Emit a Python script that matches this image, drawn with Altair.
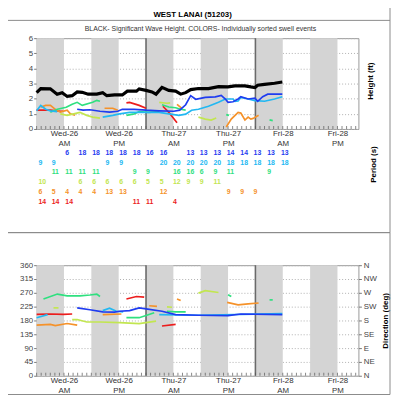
import altair as alt
import pandas as pd

# ---------------- axis / layout values ----------------
X_MAX = 70.6
BAND_START = [0, 12, 24, 36, 48, 60]
BAND_END = [6, 18, 30, 42, 54, 66]
DAY_LINES = [24, 48]
LABEL_HOURS = [6, 18, 30, 42, 54, 66]
LABEL_DAY = ['Wed-26', 'Wed-26', 'Thu-27', 'Thu-27', 'Fri-28', 'Fri-28']
LABEL_HALF = ['AM', 'PM', 'AM', 'PM', 'AM', 'PM']
TICK_HOURS = list(range(0, 71))
HEIGHT_TICKS = [0, 1, 2, 3, 4, 5, 6]
DIR_TICKS = [0, 45, 90, 135, 180, 225, 270, 315, 360]
DIR_NAMES = ['N', 'NE', 'E', 'SE', 'S', 'SW', 'W', 'NW', 'N']

SERIES = ['black', 'blue', 'cyan', 'green', 'ygreen', 'orange', 'red']
COLORS = ['#000000', '#1f3cf0', '#22b8f2', '#2fe07f', '#c2e650', '#f5922a', '#ec1d1d']
WIDTHS = [3.2, 1.7, 1.7, 1.7, 1.7, 1.7, 1.7]

# ---------------- wave height (ft) ----------------
BLACK_T = [[0, 0.9, 3, 4.5, 5.6, 6.7, 7.8, 8.9, 10, 11.3, 13.2, 14.5, 15.4, 17.1, 18.8, 19.9, 21.9, 22.5,
            24, 25.3, 26.2, 27.5, 29, 30.5, 31.6, 32.7, 33.8, 35.5, 37.7, 39.9, 42, 43.5, 45.7, 47, 47.9,
            48.5, 50, 52.2, 53.9]]
BLACK_H = [[2.4, 2.67, 2.65, 2.3, 2.4, 2.15, 2.2, 2.45, 2.42, 2.3, 2.3, 2.4, 2.2, 2.25, 2.25, 2.5, 2.5, 2.65,
            2.55, 2.45, 2.3, 2.75, 2.55, 2.5, 2.3, 2.4, 2.6, 2.67, 2.67, 2.8, 2.78, 2.85, 2.85, 2.78, 2.74,
            2.89, 2.95, 3.02, 3.1]]
BLUE_T = [[8.9, 10.2, 11.7, 13.9, 16, 17.8, 18.8, 21.4, 24, 26.9, 30.1, 31.4, 32.7, 33.8, 34.9, 36.2, 37,
           39.2, 40.5, 41.4, 42, 43.1, 44.2, 44.8, 46.4, 47.9, 48.5, 49.6, 50.7, 53.9]]
BLUE_H = [[1.3, 1.24, 1.27, 1.17, 1.11, 1.17, 1.3, 1.3, 1.24, 1.2, 1.17, 1.24, 1.6, 2.2, 1.96, 2.04, 2.09,
           2.12, 2.22, 1.98, 1.76, 1.8, 1.98, 2.13, 1.98, 2.04, 1.83, 2.13, 2.3, 2.3]]
CYAN_T = [[0, 0.9, 2, 3, 4.5],
          [14.5, 16.7, 18.2, 20.4, 24, 26.9, 29, 31.2, 32.7, 34, 35.5, 37.7, 39.9, 41.4, 43.1, 43.5, 44.2,
           44.8, 46.4, 47.9, 50, 52.2, 53.9]]
CYAN_H = [[1.2, 1.55, 1.3, 1.2, 1.15],
          [0.78, 0.9, 1.0, 1.1, 1.1, 1.1, 1.0, 0.9, 0.98, 1.24, 1.3, 1.5, 1.76, 1.98, 1.98, 1.83, 1.85,
           2.08, 1.98, 1.87, 1.83, 1.98, 2.13]]
GREEN_T = [[3, 4.55, 6.5, 7.8, 8.9, 10, 12.3, 13.2, 13.9], [19.7, 21.4, 22.5, 24.5, 26.9],
           [27.5, 29, 30.5, 31.6, 32.7], [41.6, 42.2], [51.1, 51.8]]
GREEN_H = [[1.11, 1.3, 1.43, 1.63, 1.76, 1.56, 1.76, 1.89, 1.83], [0.9, 1.0, 1.15, 1.1, 1.15],
           [1.6, 1.45, 1.4, 1.3, 1.25], [0.95, 0.9], [0.6, 0.55]]
YGREEN_T = [[5.2, 6.7, 9.5, 11, 12.3, 13.9], [26.9, 28.6, 29.3], [35.5, 37, 38.3, 39.4]]
YGREEN_H = [[1.0, 0.9, 1.1, 0.9, 0.78, 0.72], [1.76, 1.7, 1.72], [0.78, 0.65, 0.59, 0.72]]
ORANGE_T = [[0.87, 1.95, 3.03, 4.1, 5.2, 6.7, 7.4, 8.45], [14.9, 16.7, 17.8], [30.8, 31.8],
            [41.6, 42.7, 44.2, 44.8, 45.7, 46.4, 47, 47.5, 48.7]]
ORANGE_H = [[1.43, 1.56, 1.56, 1.3, 1.11, 1.24, 1.0, 0.91], [1.37, 1.37, 1.24], [1.63, 1.37],
            [0.13, 0.65, 1.1, 1.05, 0.59, 0.78, 0.65, 0.7, 0.9]]
RED_T = [[0, 3, 5.2, 5.85], [19.7, 20.4, 22.5, 24], [27.7, 29, 30.8]]
RED_H = [[1.24, 1.24, 1.17, 1.17], [1.72, 1.76, 1.56, 1.37], [1.5, 1.1, 0.41]]

# ---------------- direction (deg) ----------------
BLUE_DT = [[8.9, 11.7, 14.5, 17.1, 18.2, 20.4, 22.5, 24, 27.5, 30.5, 35.5, 42, 44.8, 53.9]]
BLUE_D = [[221, 215, 208, 207, 210, 212, 221, 218, 210, 199, 197, 196, 201, 199]]
CYAN_DT = [[0, 2.4], [14.5, 16, 17.5, 19], [26.9, 35.5, 53.9]]
CYAN_D = [[189, 199], [212, 220, 210, 208], [199, 197, 202]]
GREEN_DT = [[1.5, 4.55, 6.7, 9.5, 11.7, 13.2, 13.9], [19.7, 22.5, 24, 25.8], [28.6, 30.5, 32.7],
            [42, 42.7], [51.1, 51.8]]
GREEN_D = [[250, 266, 260, 260, 263, 266, 258], [189, 189, 196, 205], [210, 208, 208], [264, 258], [247, 247]]
YGREEN_DT = [[3.7, 4.8], [7.8, 8.9, 11, 13.9, 18.2, 22.5, 26.2], [28.6, 29.7], [35.5, 37, 39.9]]
YGREEN_D = [[221, 221], [183, 183, 175, 175, 173, 170, 178], [224, 223], [269, 277, 271]]
ORANGE_DT = [[0, 3, 4.1, 6.7, 8.9], [14.5, 18.6], [24.7, 26.4], [30.8, 31.6], [41.8, 44.2, 46.4, 48.7]]
ORANGE_D = [[165, 167, 163, 170, 165], [199, 201], [228, 226], [250, 245], [239, 231, 234, 237]]
RED_DT = [[0, 3, 5.85, 7.8], [19.7, 21.9, 23.6], [27.5, 30.5]]
RED_D = [[200, 201, 200, 201], [250, 258, 256], [162, 167]]

# ---------------- period table (s) ----------------
PERIOD_HOURS = [0.4, 3.3, 6.3, 9.2, 12.2, 15.1, 18.1, 21.1, 24.0, 27.0, 29.9, 32.9, 35.8, 38.8, 41.7,
                44.7, 47.6, 50.6, 53.6]
P_BLUE = ['', '', '6', '18', '18', '18', '18', '18', '16', '16', '', '13', '13', '13', '14', '14', '13', '13', '13']
P_CYAN = ['9', '9', '', '', '', '9', '9', '', '', '20', '20', '20', '20', '20', '18', '18', '18', '18', '18']
P_GREEN = ['', '11', '11', '11', '11', '', '', '9', '9', '', '16', '16', '6', '9', '11', '', '', '9', '']
P_YGREEN = ['10', '', '', '6', '6', '6', '6', '6', '5', '5', '12', '9', '9', '11', '', '', '', '', '']
P_ORANGE = ['6', '5', '4', '4', '4', '13', '13', '', '', '12', '', '', '', '', '9', '9', '9', '', '']
P_RED = ['14', '14', '14', '', '', '', '', '11', '11', '', '4', '', '', '', '', '', '', '', '']

FONT = 'Liberation Sans'
BAND_COLOR = '#d4d4d4'
FRAME_COLOR = '#8a8a8a'


def build(series_defs):
    rows = []
    for name, ts, vs in series_defs:
        w = WIDTHS[SERIES.index(name)]
        for k, (tt, vv) in enumerate(zip(ts, vs)):
            for i, (t, v) in enumerate(zip(tt, vv)):
                rows.append({'series': name, 'seg': f'{name}{k}', 't': t, 'v': v, 'w': w, 'i': i})
    return pd.DataFrame(rows)


height_df = build([('red', RED_T, RED_H), ('orange', ORANGE_T, ORANGE_H), ('ygreen', YGREEN_T, YGREEN_H),
                   ('green', GREEN_T, GREEN_H), ('cyan', CYAN_T, CYAN_H), ('blue', BLUE_T, BLUE_H),
                   ('black', BLACK_T, BLACK_H)])
dir_df = build([('red', RED_DT, RED_D), ('orange', ORANGE_DT, ORANGE_D), ('ygreen', YGREEN_DT, YGREEN_D),
                ('green', GREEN_DT, GREEN_D), ('cyan', CYAN_DT, CYAN_D), ('blue', BLUE_DT, BLUE_D)])

prow = []
for r, (name, texts) in enumerate([('blue', P_BLUE), ('cyan', P_CYAN), ('green', P_GREEN),
                                    ('ygreen', P_YGREEN), ('orange', P_ORANGE), ('red', P_RED)]):
    for h, txt in zip(PERIOD_HOURS, texts):
        if txt:
            prow.append({'series': name, 'row': r + 1, 't': h, 'txt': txt})
period_df = pd.DataFrame(prow)

band_df = pd.DataFrame({'s': BAND_START, 'e': BAND_END})
day_df = pd.DataFrame({'t': DAY_LINES})
tick_df = pd.DataFrame({'t': TICK_HOURS})

label_expr = (f"[{LABEL_DAY}[indexof({LABEL_HOURS}, datum.value)], "
              f"{LABEL_HALF}[indexof({LABEL_HOURS}, datum.value)]]")
x_axis = alt.Axis(values=LABEL_HOURS, labelExpr=label_expr, ticks=False, domain=False, grid=False,
                  title=None, labelFontSize=8, labelColor='#333', labelFont=FONT, labelLineHeight=10,
                  labelPadding=1, labelOverlap=False, labelFlush=False, labelBaseline='top')
x_scale = alt.Scale(domain=[0, X_MAX], nice=False, zero=False)
color_scale = alt.Scale(domain=SERIES, range=COLORS)


def X(field):
    return alt.X(field, type='quantitative', scale=x_scale, axis=x_axis)


one = pd.DataFrame({'a': [1]})


def common_layers(h):
    bands = alt.Chart(band_df).mark_rect(color=BAND_COLOR).encode(x=X('s'), x2='e')
    days = alt.Chart(day_df).mark_rule(color='#6a6a6a', strokeWidth=1.6).encode(x=X('t'))
    ticks = alt.Chart(tick_df).mark_tick(color='#555', thickness=1, size=3).encode(
        x=X('t'), y=alt.value(h - 1.5))
    return [bands, days, ticks]


# ---------------- top panel ----------------
W = 326
HA = 92
HB = 112

lines_a = alt.Chart(height_df).mark_line(interpolate='linear').encode(
    x=X('t'),
    y=alt.Y('v:Q', scale=alt.Scale(domain=[0, 6], nice=False),
            axis=alt.Axis(values=HEIGHT_TICKS, title=None, tickSize=3, labelPadding=1, domain=False,
                          grid=True, labelFontSize=8, labelFont=FONT, labelColor='#444')),
    color=alt.Color('series:N', scale=color_scale, legend=None),
    detail='seg:N',
    order='i:Q',
    strokeWidth=alt.StrokeWidth('w:Q', scale=None),
)
raxis_a = alt.Chart(pd.DataFrame({'v': [0, 6]})).mark_point(opacity=0).encode(
    y=alt.Y('v:Q', scale=alt.Scale(domain=[0, 6], nice=False),
            axis=alt.Axis(orient='right', labels=False, ticks=False, domain=False, grid=False,
                          title='Height (ft)', titleX=12, titleY=43, titleAngle=270,
                          titleBaseline='middle', titleAlign='center', titleFontSize=8,
                          titleFont=FONT, titleFontWeight='bold', titleColor='#000')))
period = alt.Chart(period_df).mark_text(align='left', baseline='middle', fontSize=7,
                                        fontWeight='bold', font=FONT).encode(
    x=X('t'),
    y=alt.Y('row:Q', scale=alt.Scale(domain=[1, 6], range=[116, 166]), axis=None),
    text='txt:N',
    color=alt.Color('series:N', scale=color_scale, legend=None),
)
period_title = alt.Chart(one).mark_text(text='Period (s)', angle=270, fontSize=8, fontWeight='bold',
                                        font=FONT, align='center', baseline='middle', color='#000').encode(
    x=alt.value(W + 16), y=alt.value(128))
frame_a = alt.Chart(one).mark_rect(fill=None, stroke=FRAME_COLOR, strokeWidth=1).encode(
    x=alt.value(-33), x2=alt.value(W + 32), y=alt.value(-34), y2=alt.value(197))
underline = alt.Chart(one).mark_rule(color=FRAME_COLOR, strokeWidth=1).encode(
    x=alt.value(-33), x2=alt.value(W + 32), y=alt.value(-18))
title = alt.Chart(one).mark_text(text='WEST LANAI (51203)', fontSize=8, fontWeight='bold', font=FONT,
                                 align='center', baseline='middle', color='#000').encode(
    x=alt.value(158), y=alt.value(-23))
subtitle = alt.Chart(one).mark_text(
    text='BLACK- Significant Wave Height.  COLORS- Individually sorted swell events',
    fontSize=7, font=FONT, align='center', baseline='middle', color='#333').encode(
    x=alt.value(166), y=alt.value(-9))

top = alt.layer(*common_layers(HA), lines_a, raxis_a, period, period_title, frame_a, underline, title,
                subtitle).resolve_scale(y='independent').properties(width=W, height=HA)

# ---------------- bottom panel ----------------
lines_b = alt.Chart(dir_df).mark_line(interpolate='linear').encode(
    x=X('t'),
    y=alt.Y('v:Q', scale=alt.Scale(domain=[0, 360], nice=False),
            axis=alt.Axis(values=DIR_TICKS, title=None, tickSize=3, labelPadding=1, domain=False,
                          grid=True, labelFontSize=8, labelFont=FONT, labelColor='#444')),
    color=alt.Color('series:N', scale=color_scale, legend=None),
    detail='seg:N',
    order='i:Q',
    strokeWidth=alt.StrokeWidth('w:Q', scale=None),
)
raxis_b = alt.Chart(pd.DataFrame({'v': [0, 360]})).mark_point(opacity=0).encode(
    y=alt.Y('v:Q', scale=alt.Scale(domain=[0, 360], nice=False),
            axis=alt.Axis(orient='right', values=DIR_TICKS,
                          labelExpr=f"{DIR_NAMES}[round(datum.value / 45)]",
                          tickSize=3, labelPadding=2, domain=False, grid=False,
                          labelFontSize=8, labelFont=FONT, labelColor='#444',
                          title='Direction (deg)', titleX=27, titleY=56, titleAngle=270,
                          titleBaseline='middle', titleAlign='center', titleFontSize=8,
                          titleFont=FONT, titleFontWeight='bold', titleColor='#000')))
frame_b = alt.Chart(one).mark_rect(fill=None, stroke=FRAME_COLOR, strokeWidth=1).encode(
    x=alt.value(-33), x2=alt.value(W + 32), y=alt.value(-33), y2=alt.value(131))

bottom = alt.layer(*common_layers(HB), lines_b, raxis_b, frame_b).resolve_scale(
    y='independent').properties(width=W, height=HB)

chart = alt.vconcat(top, bottom, spacing=138, bounds='flush').properties(
    padding={'left': -5, 'top': -7, 'right': 0, 'bottom': 0}
).configure_view(stroke='#999', strokeWidth=1).configure_axis(
    gridColor='#b0b0b0', gridDash=[1, 2], tickColor='#777', labelFont=FONT
)

chart.save('out.html', embed_options={'renderer': 'svg', 'actions': False})
